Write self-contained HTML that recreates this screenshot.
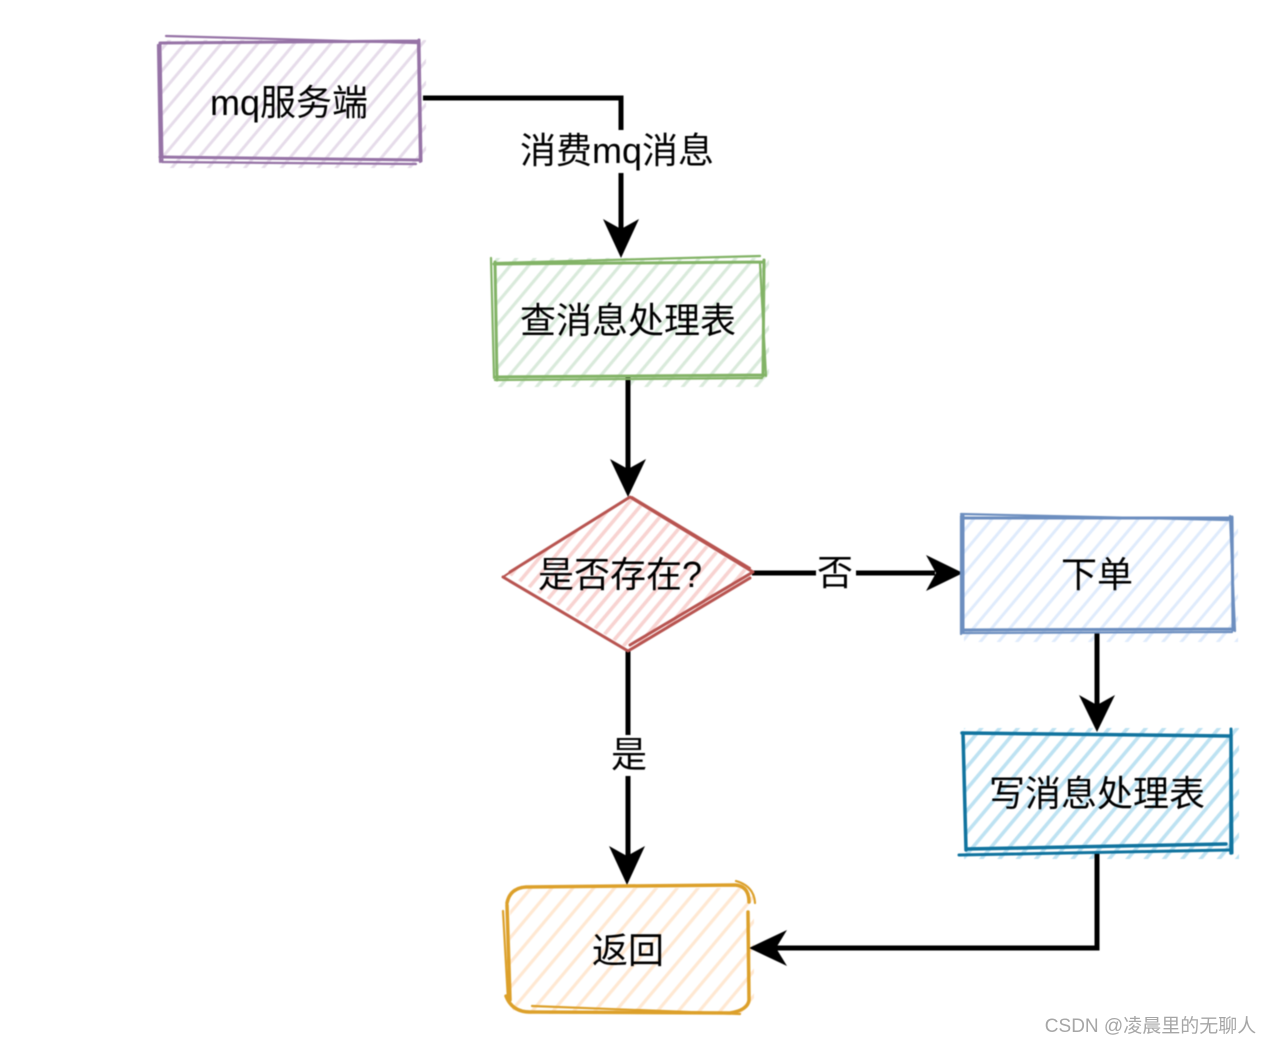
<!DOCTYPE html>
<html><head><meta charset="utf-8">
<style>
html,body{margin:0;padding:0;background:#fff;width:1272px;height:1045px;overflow:hidden}
svg{display:block}
text{font-family:"Liberation Sans","Noto Sans CJK SC",sans-serif;fill:#000;font-size:36px;text-anchor:middle}
.s{fill:none;stroke-linecap:round;stroke-linejoin:round}
.c{fill:none;stroke:#000;stroke-width:5}
.main{filter:blur(.45px)}
</style></head><body>
<svg width="1272" height="1045" viewBox="0 0 1272 1045" xmlns="http://www.w3.org/2000/svg">
<defs>
<pattern id="hp" width="14" height="14" patternUnits="userSpaceOnUse" patternTransform="rotate(40)"><rect x="0" y="0" width="3" height="14" fill="#e6dcea"/></pattern>
<pattern id="hg" width="14" height="14" patternUnits="userSpaceOnUse" patternTransform="rotate(40)"><rect x="0" y="0" width="3.2" height="14" fill="#d9eadb"/></pattern>
<pattern id="hr" width="11" height="11" patternUnits="userSpaceOnUse" patternTransform="rotate(40)"><rect x="0" y="0" width="3.6" height="11" fill="#f8d3d1"/></pattern>
<pattern id="hb" width="14" height="14" patternUnits="userSpaceOnUse" patternTransform="rotate(40)"><rect x="0" y="0" width="3" height="14" fill="#dfebfc"/></pattern>
<pattern id="hc" width="14" height="14" patternUnits="userSpaceOnUse" patternTransform="rotate(40)"><rect x="0" y="0" width="3.6" height="14" fill="#bde2f2"/></pattern>
<pattern id="ho" width="16" height="16" patternUnits="userSpaceOnUse" patternTransform="rotate(40)"><rect x="0" y="0" width="3.2" height="16" fill="#ffe8d2"/></pattern>
</defs>

<g class="main">
<!-- hatch fills -->
<rect x="162" y="40" width="264" height="128" fill="url(#hp)"/>
<rect x="495" y="258" width="274" height="129" fill="url(#hg)"/>
<polygon points="508,574 630,499 752,574 630,650" fill="url(#hr)"/>
<rect x="964" y="517" width="274" height="125" fill="url(#hb)"/>
<rect x="964" y="728" width="275" height="131" fill="url(#hc)"/>
<rect x="510" y="888" width="244" height="126" rx="12" fill="url(#ho)"/>

<!-- connectors -->
<path class="c" d="M423 98H621V230"/>
<polygon points="621,258 603,219 621,229 639,219" fill="#000"/>
<path class="c" d="M628 377V470"/>
<polygon points="628,497 610,459 628,469 646,459" fill="#000"/>
<path class="c" d="M752 573H935"/>
<polygon points="963,573 926,555 936,573 926,591" fill="#000"/>
<path class="c" d="M628 651V857"/>
<polygon points="627,885 609,846 627,856 645,846" fill="#000"/>
<path class="c" d="M1097 632V705"/>
<polygon points="1097,732 1079,695 1097,705 1115,695" fill="#000"/>
<path class="c" d="M1097 851V948H775"/>
<polygon points="749,948 787,930 776,948 787,966" fill="#000"/>

<!-- node outlines -->
<g class="s" stroke="#9673a6" stroke-width="3">
<path d="M160 43 L418 41 M160 43 L162 160 M419 40 L421 161 M160 157 L420 160"/>
<path stroke-width="2.2" d="M166 36 L417 43 M158 45 L160 162 M162 162 L416 164 M418 41 L420 162"/>
</g>
<g class="s" stroke="#82b366" stroke-width="3">
<path d="M494 264 L764 262 M495 262 L497 380 M764 260 L763 376 M496 377 L764 375"/>
<path stroke-width="2.2" d="M491 258 L494 378 M497 263 L760 256 M760 263 L766 376 M495 380 L762 378"/>
</g>
<g class="s" stroke="#b85450" stroke-width="3">
<path d="M510 572 L630 497 L753 572 L630 645"/>
<path d="M503 577 L628 651 L750 578"/>
<path stroke-width="2" d="M503 577 L515 569 M632 497 L750 568"/>
</g>
<g class="s" stroke="#6c8ebf" stroke-width="3">
<path d="M963 518 L1232 518 M963 516 L963 632 M1232 517 L1233 630 M963 630 L1233 629"/>
<path stroke-width="2.2" d="M961 514 L1228 520 M961 516 L961 634 M1230 516 L1235 631 M962 633 L1232 632"/>
</g>
<g class="s" stroke="#10739e" stroke-width="3.5">
<path d="M962 733 L1230 736 M963 733 L966 850 M1231 735 L1231 853 M966 849 L1226 844"/>
<path stroke-width="3" d="M959 855 L1230 850 M1231 729 L1232 853"/>
</g>
<g class="s" stroke="#dca02a" stroke-width="3.5">
<path d="M507 903 Q510 888 526 887 L735 885 Q749 886 749 902 M748 912 L749 1000 Q748 1010 730 1013 L530 1012 Q512 1012 506 996 M507 905 L510 1000"/>
<path stroke-width="2.2" d="M503 911 L508 1000 M736 881 Q754 886 755 903 M532 1006 L740 1014"/>
</g>

<!-- labels -->
<rect x="518" y="130" width="200" height="43" fill="#fff"/>
<text x="617" y="163">消费mq消息</text>
<rect x="816" y="553" width="40" height="40" fill="#fff"/>
<text x="835" y="585">否</text>
<rect x="610" y="735" width="38" height="41" fill="#fff"/>
<text x="629" y="767">是</text>

<text x="289" y="115">mq服务端</text>
<text x="628" y="333">查消息处理表</text>
<text x="620" y="587">是否存在?</text>
<text x="1097" y="587">下单</text>
<text x="1097" y="806">写消息处理表</text>
<text x="628" y="963">返回</text>
</g>
<text x="1150.500" y="1032" style="font-size:19px;fill:#a6a6a6">CSDN @凌晨里的无聊人</text>
</svg>
</body></html>
